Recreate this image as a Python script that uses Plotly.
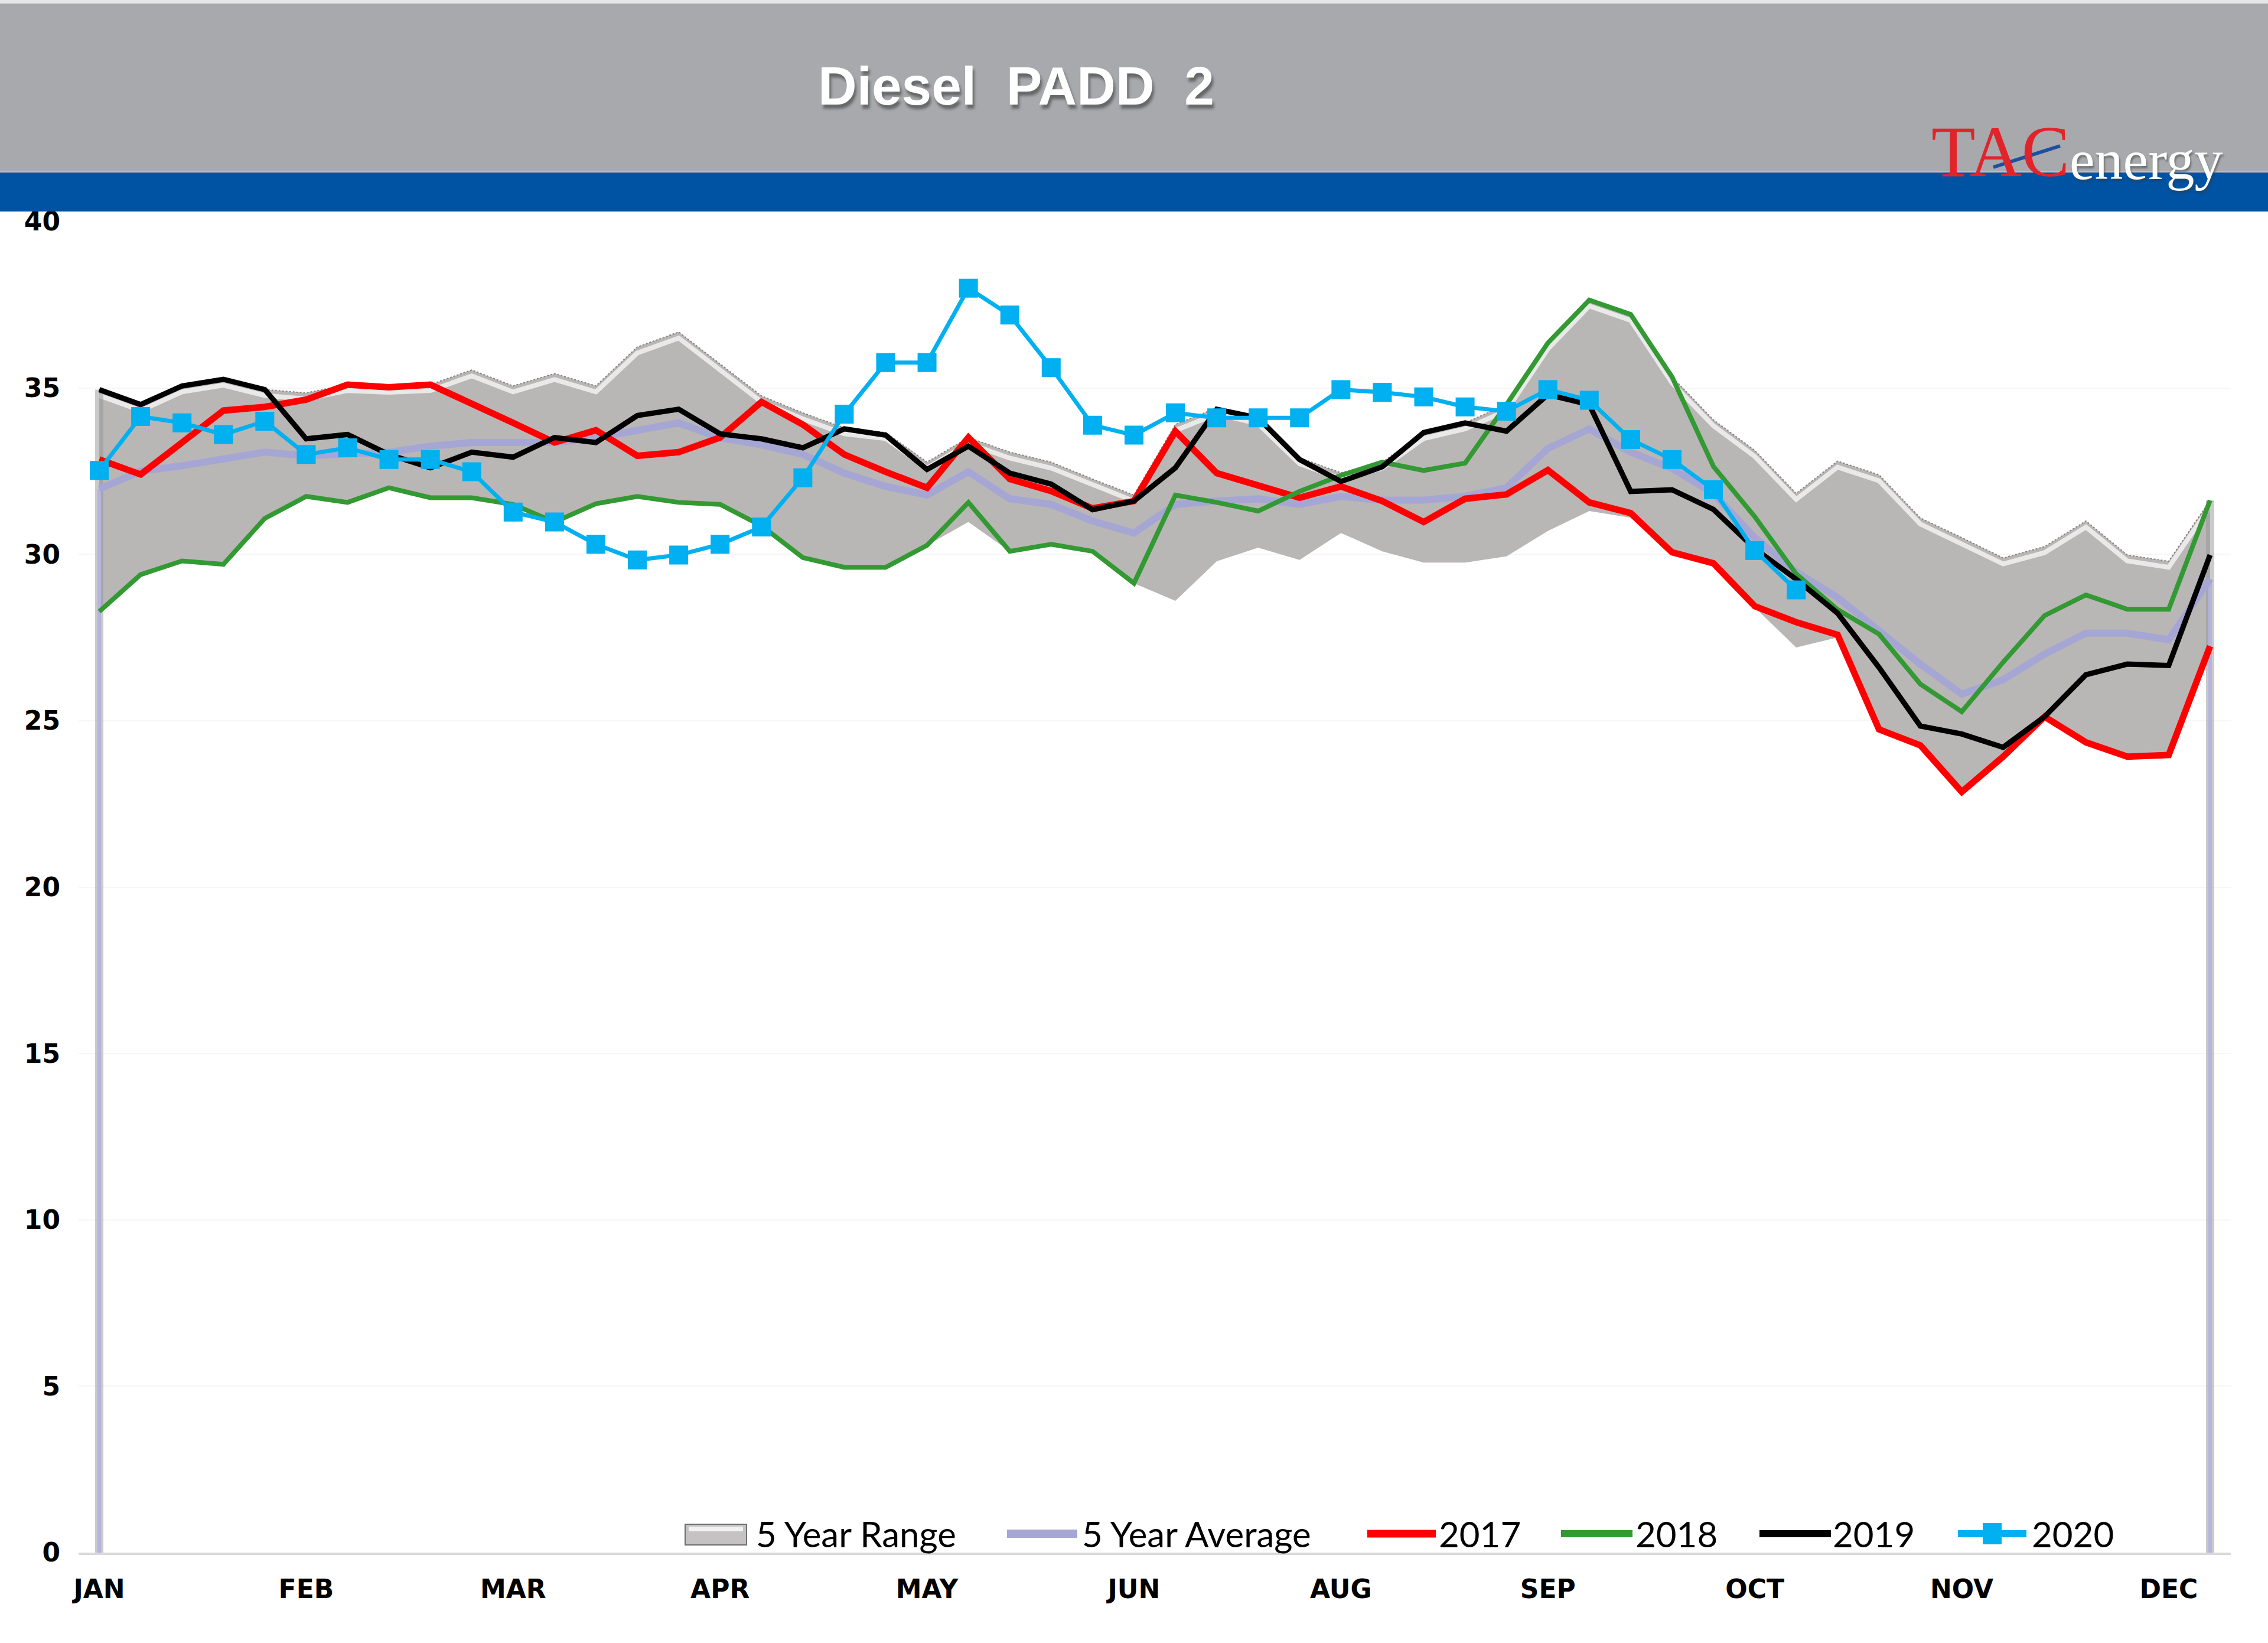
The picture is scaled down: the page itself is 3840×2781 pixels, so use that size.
import plotly.graph_objects as go

# ---------------- data (weekly, 52 weeks) ----------------
weeks = list(range(52))
month_tick_pos = [0, 5, 10, 15, 20, 25, 30, 35, 40, 45, 50]
month_labels = ["JAN", "FEB", "MAR", "APR", "MAY", "JUN", "AUG", "SEP", "OCT", "NOV", "DEC"]

range_low = [28.28, 29.39, 29.8, 29.7, 31.08, 31.74, 31.56, 32.0, 31.7, 31.7,
             31.5, 30.97, 31.52, 31.74, 31.56, 31.5, 30.86, 29.9, 29.61, 29.61,
             30.27, 30.97, 30.09, 30.3, 30.09, 29.13, 28.6, 29.79, 30.2, 29.83,
             30.64, 30.09, 29.75, 29.75, 29.94, 30.7, 31.3, 31.1, 30.0, 29.7,
             28.4, 27.2, 27.5, 24.74, 24.26, 22.86, 23.92, 25.1, 24.35, 23.92,
             23.97, 27.24]
range_high = [34.95, 34.5, 35.06, 35.26, 34.95, 34.85, 35.1, 35.05, 35.1, 35.54,
              35.06, 35.43, 35.06, 36.23, 36.68, 35.72, 34.76, 34.25, 33.8, 33.66,
              32.77, 33.51, 33.07, 32.77, 32.26, 31.78, 33.9, 34.4, 34.1, 32.9,
              32.45, 32.77, 33.66, 33.95, 34.5, 36.35, 37.64, 37.21, 35.33, 34.04,
              33.12, 31.83, 32.8, 32.39, 31.09, 30.5, 29.89, 30.23, 31.0, 29.98,
              29.79, 31.62]
avg5 = [31.96, 32.5, 32.66, 32.85, 33.07, 32.96, 33.0, 33.07, 33.25, 33.36,
        33.36, 33.36, 33.5, 33.73, 33.95, 33.5, 33.29, 33.0, 32.44, 32.04,
        31.78, 32.48, 31.67, 31.5, 31.0, 30.64, 31.5, 31.6, 31.67, 31.5,
        31.74, 31.63, 31.63, 31.74, 32.0, 33.18, 33.77, 33.07, 32.58, 31.83,
        30.49, 29.47, 28.7, 27.7, 26.7, 25.8, 26.23, 27.0, 27.63, 27.63,
        27.43, 29.26]
y2017 = [32.85, 32.4, 33.36, 34.32, 34.43, 34.65, 35.1, 35.02, 35.1, 34.54,
         33.95, 33.36, 33.73, 32.96, 33.07, 33.51, 34.58, 33.9, 33.0, 32.48,
         32.0, 33.51, 32.26, 31.9, 31.38, 31.6, 33.7, 32.44, 32.07, 31.7,
         32.04, 31.6, 30.97, 31.67, 31.8, 32.53, 31.56, 31.24, 30.06, 29.73,
         28.44, 27.96, 27.58, 24.74, 24.26, 22.86, 23.92, 25.12, 24.35, 23.92,
         23.97, 27.24]
y2018 = [28.28, 29.39, 29.8, 29.7, 31.08, 31.74, 31.56, 32.0, 31.7, 31.7,
         31.5, 30.97, 31.52, 31.74, 31.56, 31.5, 30.86, 29.9, 29.61, 29.61,
         30.27, 31.56, 30.09, 30.3, 30.09, 29.13, 31.78, 31.56, 31.3, 31.89,
         32.37, 32.77, 32.52, 32.74, 34.5, 36.35, 37.64, 37.21, 35.33, 32.64,
         31.13, 29.41, 28.34, 27.6, 26.1, 25.27, 26.76, 28.16, 28.78, 28.35,
         28.35, 31.62]
y2019 = [34.95, 34.5, 35.06, 35.26, 34.95, 33.47, 33.6, 33.0, 32.6, 33.07,
         32.92, 33.51, 33.36, 34.17, 34.36, 33.62, 33.47, 33.2, 33.77, 33.58,
         32.55, 33.25, 32.44, 32.11, 31.34, 31.6, 32.6, 34.36, 34.1, 32.85,
         32.19, 32.63, 33.66, 33.95, 33.7, 34.8, 34.5, 31.89, 31.94, 31.35,
         30.17, 29.25, 28.23, 26.6, 24.84, 24.6, 24.2, 25.12, 26.38, 26.7,
         26.66, 29.98]
y2020 = [32.52, 34.14, 33.95, 33.6, 34.0, 33.0, 33.2, 32.85, 32.85, 32.48,
         31.27, 30.97, 30.3, 29.83, 29.98, 30.3, 30.82, 32.3, 34.21, 35.76,
         35.76, 38.0, 37.19, 35.61, 33.88, 33.58, 34.25, 34.1, 34.1, 34.1,
         34.95, 34.87, 34.73, 34.43, 34.3, 34.95, 34.63, 33.45, 32.85, 31.94,
         30.11, 28.93]

series_names = ["5 Year Range", "5 Year Average", "2017", "2018", "2019", "2020"]
title_text = "Diesel  PADD  2"

# ---------------- geometry helpers (pixels -> paper) ----------------
W, H = 3840, 2781
ML, MR, MT, MB = 133, 63, 375, 153
PW, PH = W - ML - MR, H - MT - MB


def px(X):
    return (X - ML) / PW


def py(Y):
    return (H - MB - Y) / PH


fig = go.Figure()

# 5-year range (lower invisible + filled upper)
fig.add_trace(go.Scatter(x=weeks, y=range_low, mode="lines", line=dict(width=0),
                         showlegend=False, hoverinfo="skip"))
fig.add_trace(go.Scatter(x=weeks, y=range_high, mode="lines", fill="tonexty",
                         fillcolor="#B9B6B6", line=dict(color="#8E8080", width=2, dash="dot"),
                         name=series_names[0], showlegend=False))
# bevel highlight along the top edge of the range
fig.add_trace(go.Scatter(x=weeks, y=[v - 0.18 for v in range_high], mode="lines",
                         line=dict(color="rgba(255,255,255,0.7)", width=8),
                         showlegend=False, hoverinfo="skip"))
# side edges of range down to zero, and the average's drop lines
for i in (0, len(weeks) - 1):
    fig.add_trace(go.Scatter(x=[weeks[i], weeks[i]], y=[0, range_high[i]], mode="lines",
                             line=dict(color="rgba(150,150,150,0.5)", width=14),
                             showlegend=False, hoverinfo="skip"))
    fig.add_trace(go.Scatter(x=[weeks[i], weeks[i]], y=[0, avg5[i]], mode="lines",
                             line=dict(color="#B4B4DC", width=6),
                             showlegend=False, hoverinfo="skip"))

# 5-year average
fig.add_trace(go.Scatter(x=weeks, y=avg5, mode="lines",
                         line=dict(color="#A6A6D4", width=12), name=series_names[1],
                         showlegend=False))
fig.add_trace(go.Scatter(x=weeks, y=y2017, mode="lines", line=dict(color="#FF0000", width=11),
                         name=series_names[2], showlegend=False))
fig.add_trace(go.Scatter(x=weeks, y=y2018, mode="lines", line=dict(color="#339933", width=8),
                         name=series_names[3], showlegend=False))
fig.add_trace(go.Scatter(x=weeks, y=y2019, mode="lines", line=dict(color="#000000", width=9),
                         name=series_names[4], showlegend=False))
fig.add_trace(go.Scatter(x=weeks[:len(y2020)], y=y2020, mode="lines+markers",
                         line=dict(color="#00B0F0", width=7),
                         marker=dict(symbol="square", size=32, color="#00B0F0"),
                         name=series_names[5], showlegend=False))

shapes = []
annotations = []

# header bands
shapes.append(dict(type="rect", xref="paper", yref="paper", x0=px(0), x1=px(W), y0=py(290), y1=py(0),
                   fillcolor="#A7A9AC", line=dict(width=0), layer="above"))
shapes.append(dict(type="rect", xref="paper", yref="paper", x0=px(0), x1=px(W), y0=py(6), y1=py(0),
                   fillcolor="#E6E6E8", line=dict(width=0), layer="above"))
shapes.append(dict(type="rect", xref="paper", yref="paper", x0=px(0), x1=px(W), y0=py(292), y1=py(289),
                   fillcolor="#C9B9B9", line=dict(width=0), layer="above"))
shapes.append(dict(type="rect", xref="paper", yref="paper", x0=px(0), x1=px(W), y0=py(358), y1=py(292),
                   fillcolor="#0052A2", line=dict(width=0), layer="above"))

# title (white with drop shadow)
annotations.append(dict(text=title_text, xref="paper", yref="paper", x=px(1720), y=py(146),
                        showarrow=False, xanchor="center", yanchor="middle",
                        font=dict(family="Liberation Sans", size=91, color="#FFFFFF", weight="bold",
                                  shadow="3px 7px 4px rgba(60,60,60,0.6)")))

# logo
annotations.append(dict(text="TAC", xref="paper", yref="paper", x=px(3268), y=py(256),
                        showarrow=False, xanchor="left", yanchor="middle",
                        font=dict(family="Liberation Serif", size=122, color="#E3232A")))
annotations.append(dict(text="energy", xref="paper", yref="paper", x=px(3502), y=py(270),
                        showarrow=False, xanchor="left", yanchor="middle",
                        font=dict(family="Liberation Serif", size=96, color="#FFFFFF",
                                  shadow="2px 4px 3px rgba(60,60,60,0.5)")))
shapes.append(dict(type="line", xref="paper", yref="paper", x0=px(3375), y0=py(283), x1=px(3488), y1=py(247),
                   line=dict(color="#1F4FA0", width=6), layer="above"))

# manual legend
leg_y = 2596
shapes.append(dict(type="rect", xref="paper", yref="paper", x0=px(1160), x1=px(1264), y0=py(2615), y1=py(2580),
                   fillcolor="#C4C2C2", line=dict(color="#6E6E6E", width=2), layer="above"))
shapes.append(dict(type="rect", xref="paper", yref="paper", x0=px(1166), x1=px(1258), y0=py(2592), y1=py(2584),
                   fillcolor="#F2F2F2", line=dict(width=0), layer="above"))
leg_lines = [(1705, 1824, "#A6A6D4", 14), (2315, 2431, "#FF0000", 13), (2643, 2764, "#339933", 12),
             (2979, 3100, "#000000", 12), (3315, 3431, "#00B0F0", 12)]
for x0, x1, c, w in leg_lines:
    shapes.append(dict(type="line", xref="paper", yref="paper", x0=px(x0), x1=px(x1), y0=py(leg_y), y1=py(leg_y),
                       line=dict(color=c, width=w), layer="above"))
shapes.append(dict(type="rect", xref="paper", yref="paper", x0=px(3357), x1=px(3389), y0=py(2614), y1=py(2578),
                   fillcolor="#00B0F0", line=dict(width=0), layer="above"))
leg_text_x = [1278, 1830, 2434, 2767, 3101, 3438]
for tx, name in zip(leg_text_x, series_names):
    annotations.append(dict(text=name, xref="paper", yref="paper", x=px(tx), y=py(leg_y),
                            showarrow=False, xanchor="left", yanchor="middle",
                            font=dict(family="Lato", size=60, color="#000000")))

fig.update_layout(
    width=W, height=H,
    margin=dict(l=ML, r=MR, t=MT, b=MB),
    paper_bgcolor="#FFFFFF", plot_bgcolor="#FFFFFF",
    showlegend=False,
    shapes=shapes, annotations=annotations,
    xaxis=dict(range=[-0.5, 51.5], tickmode="array", tickvals=month_tick_pos, ticktext=month_labels,
               showgrid=False, zeroline=False, showline=True, linecolor="#D9D9D9", linewidth=4,
               ticks="", ticklabelstandoff=20,
               tickfont=dict(family="DejaVu Sans", size=44, color="#000000", weight="bold")),
    yaxis=dict(range=[0, 40], tickmode="linear", tick0=0, dtick=5,
               showgrid=True, gridcolor="#F6F6F6", gridwidth=2, zeroline=False, showline=False,
               ticks="", ticklabelstandoff=30,
               tickfont=dict(family="DejaVu Sans", size=44, color="#000000", weight="bold")),
)

fig.write_html("out.html", config={"displayModeBar": False},
               post_script="document.body.style.margin='0';")
